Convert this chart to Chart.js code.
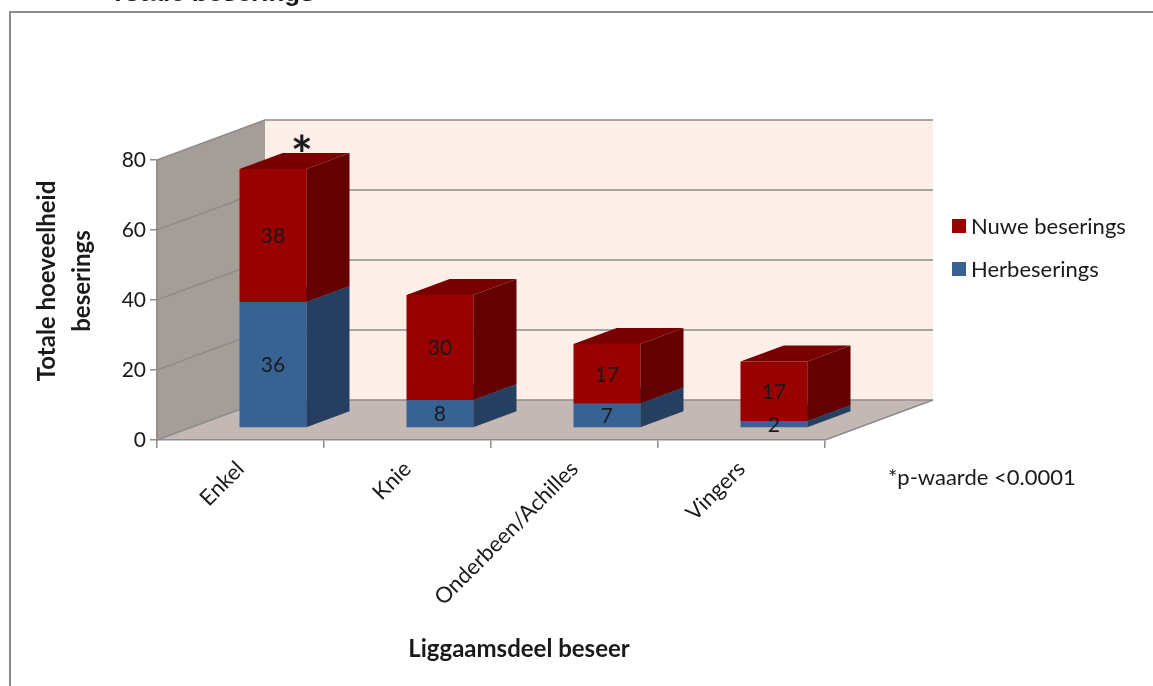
<!DOCTYPE html>
<html>
<head>
<meta charset="utf-8">
<script src="https://cdn.jsdelivr.net/npm/chart.js@4.4.1/dist/chart.umd.min.js"></script>
<style>
  html, body { margin: 0; padding: 0; background: #fff; overflow: hidden; }
  #frame {
    position: absolute; left: 9px; top: 11px; width: 1300px; height: 800px;
    border-left: 2px solid #8c8c8c; border-top: 2px solid #8c8c8c;
  }
  #chart { position: absolute; left: 0; top: 0; }
</style>
</head>
<body>
<div id="frame"></div>
<canvas id="chart" width="1153" height="686"></canvas>
<script>
// Data
const categories = ['Enkel', 'Knie', 'Onderbeen/Achilles', 'Vingers'];
const herbeserings = [36, 8, 7, 2];
const nuweBeserings = [38, 30, 17, 17];
const yTicks = [0, 20, 40, 60, 80];

const FONT = 'Lato, "Open Sans", sans-serif';
const TEXT = '#1a1a1a';
const LINE = '#8c8c8c';

// 3D geometry: depth of the walls and where the bars sit inside that depth
const DEPTH_X = 108;
const DEPTH_Y = 40;
const BAR_FRONT = 0.3;
const BAR_BACK = 0.7;

const SERIES_COLORS = [
  { front: '#386294', side: '#243f60', top: '#2d507a' },   // Herbeserings
  { front: '#990000', side: '#640000', top: '#780000' }    // Nuwe beserings
];

function poly(ctx, pts, fill) {
  ctx.beginPath();
  ctx.moveTo(pts[0][0], pts[0][1]);
  for (let i = 1; i < pts.length; i++) ctx.lineTo(pts[i][0], pts[i][1]);
  ctx.closePath();
  ctx.fillStyle = fill;
  ctx.fill();
}

function drawBox(ctx, l, r, t, b, dx, dy, c) {
  ctx.fillStyle = c.front;
  ctx.fillRect(l, t, r - l, b - t);
  poly(ctx, [[r, t], [r + dx, t - dy], [r + dx, b - dy], [r, b]], c.side);
  poly(ctx, [[l, t], [l + dx, t - dy], [r + dx, t - dy], [r, t]], c.top);
}

const threeD = {
  id: 'threeD',
  // walls, floor and gridlines behind everything
  beforeDraw(chart) {
    const { ctx, chartArea: a, scales: { y } } = chart;
    const bl = a.left + DEPTH_X;
    ctx.save();
    poly(ctx, [[a.left, a.top], [bl, a.top - DEPTH_Y], [bl, a.bottom - DEPTH_Y], [a.left, a.bottom]], '#a59d98');
    ctx.fillStyle = '#fdeee7';
    ctx.fillRect(bl, a.top - DEPTH_Y, a.width, a.height);
    poly(ctx, [[a.left, a.bottom], [bl, a.bottom - DEPTH_Y], [a.right + DEPTH_X, a.bottom - DEPTH_Y], [a.right, a.bottom]], '#c4b8b4');

    ctx.strokeStyle = LINE;
    ctx.lineWidth = 1.5;
    yTicks.forEach(v => {
      const py = y.getPixelForValue(v);
      ctx.beginPath();
      ctx.moveTo(a.left, py);
      ctx.lineTo(bl, py - DEPTH_Y);
      ctx.lineTo(a.right + DEPTH_X, py - DEPTH_Y);
      ctx.stroke();
    });
    ctx.beginPath();
    ctx.moveTo(a.right, a.bottom);
    ctx.lineTo(a.right + DEPTH_X, a.bottom - DEPTH_Y);
    ctx.stroke();
    ctx.restore();
  },
  // the flat bars are replaced by boxes
  beforeDatasetDraw() {
    return false;
  },
  afterDatasetsDraw(chart) {
    const { ctx } = chart;
    const fx = BAR_FRONT * DEPTH_X, fy = BAR_FRONT * DEPTH_Y;
    const dx = (BAR_BACK - BAR_FRONT) * DEPTH_X, dy = (BAR_BACK - BAR_FRONT) * DEPTH_Y;
    ctx.save();
    categories.forEach((_, i) => {
      chart.data.datasets.forEach((ds, d) => {
        const el = chart.getDatasetMeta(d).data[i];
        const p = el.getProps(['x', 'y', 'base', 'width'], true);
        const l = p.x - p.width / 2 + fx, r = p.x + p.width / 2 + fx;
        drawBox(ctx, l, r, p.y - fy, p.base - fy, dx, dy, SERIES_COLORS[d]);
      });
    });
    // value labels on the front faces
    ctx.fillStyle = TEXT;
    ctx.font = '21px ' + FONT;
    ctx.textAlign = 'center';
    ctx.textBaseline = 'middle';
    chart.data.datasets.forEach((ds, d) => {
      chart.getDatasetMeta(d).data.forEach((el, i) => {
        const p = el.getProps(['x', 'y', 'base'], true);
        ctx.fillText(String(ds.data[i]), p.x + fx, (p.y + p.base) / 2 - fy + 1);
      });
    });
    // significance marker above the first bar
    const first = chart.getDatasetMeta(1).data[0].getProps(['x', 'y'], true);
    ctx.font = 'bold 52px ' + FONT;
    ctx.fillText('*', first.x + fx + 29, first.y - fy - 12);
    ctx.restore();
  },
  afterDraw(chart) {
    const { ctx } = chart;
    ctx.save();
    ctx.fillStyle = TEXT;

    // axis titles
    ctx.font = 'bold 24px ' + FONT;
    ctx.textAlign = 'center';
    ctx.textBaseline = 'middle';
    ctx.fillText('Liggaamsdeel beseer', 519, 649);
    ctx.save();
    ctx.translate(47, 281);
    ctx.rotate(-Math.PI / 2);
    ctx.fillText('Totale hoeveelheid', 0, 0);
    ctx.fillText('beserings', 0, 35);
    ctx.restore();

    // legend
    ctx.font = '22px ' + FONT;
    ctx.textAlign = 'left';
    const legendItems = [
      { label: 'Nuwe beserings', color: SERIES_COLORS[1].front, y: 226 },
      { label: 'Herbeserings', color: SERIES_COLORS[0].front, y: 269 }
    ];
    legendItems.forEach(it => {
      ctx.fillStyle = it.color;
      ctx.fillRect(952, it.y - 7, 14, 14);
      ctx.fillStyle = TEXT;
      ctx.fillText(it.label, 971, it.y + 1);
    });

    // footnote
    ctx.fillText('*p-waarde <0.0001', 888, 478);

    // heading, mostly above the top of the page
    ctx.font = 'bold 26px "Liberation Sans", Arial, sans-serif';
    ctx.textBaseline = 'alphabetic';
    ctx.fillText('Totale beserings', 110, 1);
    ctx.restore();
  }
};

new Chart(document.getElementById('chart'), {
  type: 'bar',
  data: {
    labels: categories,
    datasets: [
      { label: 'Herbeserings', data: herbeserings, backgroundColor: SERIES_COLORS[0].front },
      { label: 'Nuwe beserings', data: nuweBeserings, backgroundColor: SERIES_COLORS[1].front }
    ]
  },
  options: {
    responsive: false,
    animation: false,
    events: [],
    layout: { padding: { left: 20, top: 160, right: 328, bottom: 10 } },
    plugins: { legend: { display: false }, tooltip: { enabled: false } },
    datasets: { bar: { barPercentage: 0.4, categoryPercentage: 1 } },
    scales: {
      x: {
        stacked: true,
        afterFit: s => { s.height = 236; },
        grid: { drawOnChartArea: false, offset: true, tickLength: 8, color: LINE, lineWidth: 1.5 },
        border: { color: LINE, width: 1.5 },
        ticks: { minRotation: 45, maxRotation: 45, color: TEXT, font: { family: FONT, size: 22 }, padding: 8 }
      },
      y: {
        stacked: true,
        min: 0,
        max: 80,
        afterFit: s => { s.width = 137; },
        grid: { drawOnChartArea: false, tickLength: 7, color: LINE, lineWidth: 1.5 },
        border: { color: LINE, width: 1.5 },
        ticks: { stepSize: 20, color: TEXT, font: { family: FONT, size: 21 }, padding: 4 }
      }
    }
  },
  plugins: [threeD]
});
</script>
</body>
</html>
